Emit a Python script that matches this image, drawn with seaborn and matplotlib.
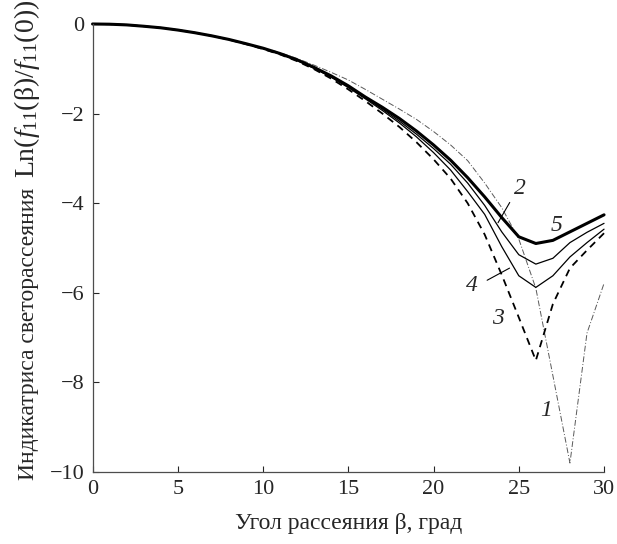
import numpy as np
import pandas as pd
import matplotlib
matplotlib.use("Agg")
import matplotlib.pyplot as plt
import seaborn as sns

# -------- данные --------
beta = list(range(0, 31))

curve1 = [0.0, -0.005, -0.02, -0.05, -0.085, -0.135, -0.195, -0.265, -0.345, -0.44,
          -0.53, -0.64, -0.77, -0.92, -1.08, -1.25, -1.46, -1.68, -1.9, -2.13,
          -2.4, -2.7, -3.05, -3.55, -4.1, -4.8, -5.9, -7.85, -9.8, -6.9, -5.79]
curve2 = [0.0, -0.005, -0.02, -0.05, -0.085, -0.135, -0.195, -0.265, -0.345, -0.44,
          -0.545, -0.665, -0.81, -0.98, -1.18, -1.4, -1.65, -1.9, -2.17, -2.46,
          -2.78, -3.13, -3.55, -4.05, -4.64, -5.15, -5.36, -5.23, -4.88, -4.65, -4.45]
curve3 = [0.0, -0.005, -0.02, -0.05, -0.085, -0.135, -0.195, -0.265, -0.35, -0.45,
          -0.56, -0.68, -0.83, -1.01, -1.22, -1.46, -1.72, -2.0, -2.3, -2.64,
          -3.02, -3.45, -4.0, -4.7, -5.6, -6.55, -7.51, -6.25, -5.45, -5.05, -4.67]
curve4 = [0.0, -0.005, -0.02, -0.05, -0.085, -0.135, -0.195, -0.265, -0.345, -0.44,
          -0.55, -0.67, -0.815, -0.99, -1.19, -1.42, -1.67, -1.93, -2.21, -2.52,
          -2.87, -3.26, -3.74, -4.25, -4.97, -5.62, -5.88, -5.62, -5.2, -4.88, -4.58]
curve5 = [0.0, -0.005, -0.02, -0.05, -0.085, -0.135, -0.195, -0.265, -0.345, -0.44,
          -0.54, -0.66, -0.8, -0.97, -1.16, -1.38, -1.63, -1.86, -2.11, -2.39,
          -2.7, -3.04, -3.43, -3.86, -4.32, -4.75, -4.9, -4.83, -4.64, -4.45, -4.26]

x_ticks = [0, 5, 10, 15, 20, 25, 30]
y_ticks = [0, -2, -4, -6, -8, -10]

curve_labels = ["1", "2", "3", "4", "5"]

# -------- оформление --------
sns.set_style("ticks")
plt.rcParams['font.family'] = ['Liberation Serif', 'DejaVu Serif']
plt.rcParams['mathtext.fontset'] = 'custom'
plt.rcParams['mathtext.rm'] = 'Liberation Serif'
plt.rcParams['mathtext.it'] = 'Liberation Serif:italic'
plt.rcParams['axes.unicode_minus'] = True

FS_TICK = 16
FS_LAB = 17

fig = plt.figure(figsize=(6.17, 5.44), dpi=100)
ax = fig.add_axes([0.150, 0.1324, 0.829, 0.8235])

styles = {
    "1": dict(color="0.35", lw=0.7, ls=(0, (6, 2, 1, 2))),
    "2": dict(color="black", lw=0.9, ls="-"),
    "3": dict(color="black", lw=1.3, ls=(0, (4, 3))),
    "4": dict(color="black", lw=0.9, ls="-"),
    "5": dict(color="black", lw=2.2, ls="-"),
}
series = dict(zip(curve_labels, [curve1, curve2, curve3, curve4, curve5]))

for name, vals in series.items():
    st = styles[name]
    sns.lineplot(x=beta, y=vals, ax=ax, color=st["color"], linewidth=st["lw"],
                 linestyle=st["ls"], clip_on=False)

ax.set_xlim(0, 30)
ax.set_ylim(-10, 0)
ax.set_xticks(x_ticks)
ax.set_yticks(y_ticks)
ax.tick_params(direction="in", length=4, width=0.8, labelsize=FS_TICK, pad=6)
sns.despine(ax=ax)
for sp in ["left", "bottom"]:
    ax.spines[sp].set_linewidth(0.9)
    ax.spines[sp].set_color("0.3")

ax.set_xlabel("Угол рассеяния β, град", fontsize=FS_LAB, labelpad=10)
ax.set_ylabel("")

# подпись оси Y (в оригинале обрезана сверху)
fig.text(0.046, 0.1176, "Индикатриса светорассеяния",
         rotation=90, ha="center", va="bottom", fontsize=FS_LAB)
fig.text(0.044, 0.672, r"Ln$(f_{11}($β$)/f_{11}(0))$",
         rotation=90, ha="center", va="bottom", fontsize=20)

# номера кривых
lab_pos = {"1": (26.6, -8.62), "2": (25.06, -3.67), "3": (23.8, -6.57),
           "4": (22.24, -5.83), "5": (27.2, -4.49)}
for name, (lx, ly) in lab_pos.items():
    ax.text(lx, ly, name, fontsize=FS_LAB, style="italic", ha="center", va="center")

ax.annotate("", xy=(23.7, -4.49), xytext=(24.55, -3.93),
            arrowprops=dict(arrowstyle="-", lw=0.8, color="black"))
ax.annotate("", xy=(24.6, -5.42), xytext=(23.0, -5.75),
            arrowprops=dict(arrowstyle="-", lw=0.8, color="black"))

fig.savefig("out.png", dpi=100)
